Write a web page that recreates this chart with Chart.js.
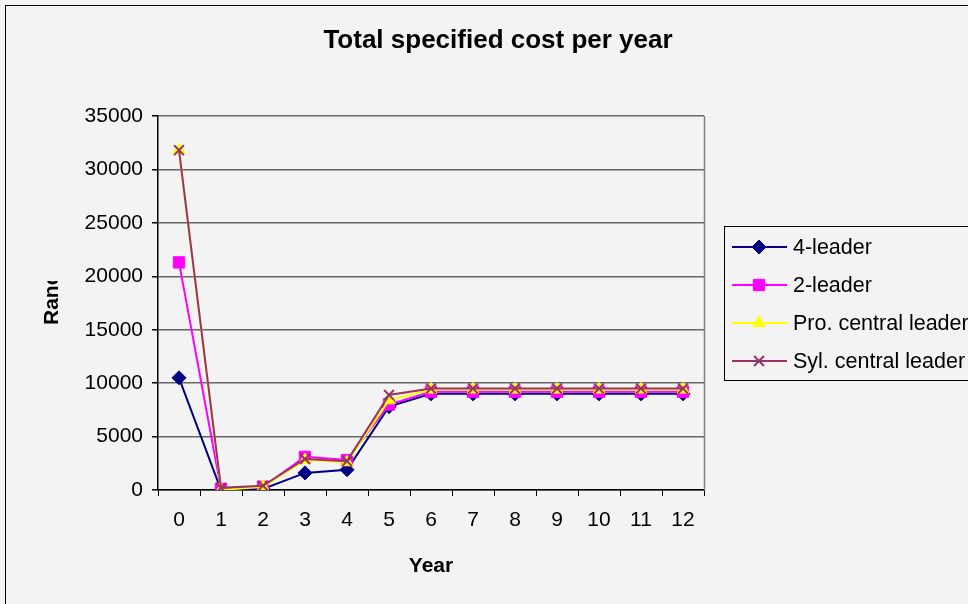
<!DOCTYPE html>
<html>
<head>
<meta charset="utf-8">
<script src="https://cdn.jsdelivr.net/npm/chart.js@4.4.1/dist/chart.umd.min.js"></script>
<style>
  body { margin: 0; background: #f3f3f3; }
  canvas { display: block; }
</style>
</head>
<body>
<canvas id="costChart" width="968" height="604"></canvas>
<script>
// Data
let years = ["0", "1", "2", "3", "4", "5", "6", "7", "8", "9", "10", "11", "12"];
let fourLeader = [10500, 0, 100, 1600, 1900, 7800, 9000, 9000, 9000, 9000, 9000, 9000, 9000];
let twoLeader = [21300, 100, 300, 3100, 2800, 8000, 9200, 9200, 9200, 9200, 9200, 9200, 9200];
let proCentral = [31800, 0, 300, 2800, 2600, 8400, 9400, 9400, 9400, 9400, 9400, 9400, 9400];
let sylCentral = [31800, 200, 400, 2900, 2700, 8900, 9500, 9500, 9500, 9500, 9500, 9500, 9500];
let yTicks = [0, 5000, 10000, 15000, 20000, 25000, 30000, 35000];

const FONT = "Arial, 'Liberation Sans', sans-serif";

// background, frame, titles, right border and legend drawn by hand
const decor = {
    id: "decor",
    beforeDraw(chart) {
        let ctx = chart.ctx;
        ctx.save();
        ctx.fillStyle = "#f3f3f3";
        ctx.fillRect(0, 0, chart.width, chart.height);
        ctx.strokeStyle = "#000";
        ctx.lineWidth = 1;
        ctx.strokeRect(5.5, 5.5, 1200, 1200);
        ctx.restore();
    },
    afterDraw(chart) {
        let ctx = chart.ctx;
        let area = chart.chartArea;
        ctx.save();

        // right edge of the plot area
        ctx.strokeStyle = "#808080";
        ctx.lineWidth = 1.5;
        ctx.beginPath();
        ctx.moveTo(area.right + 0.5, area.top);
        ctx.lineTo(area.right + 0.5, area.bottom);
        ctx.stroke();

        ctx.fillStyle = "#000";
        ctx.font = "bold 26px " + FONT;
        ctx.textAlign = "center";
        ctx.textBaseline = "alphabetic";
        ctx.fillText("Total specified cost per year", 498, 48);

        ctx.font = "bold 21px " + FONT;
        ctx.fillText("Year", 431, 572);

        // y title, clipped like the original ("Rand" shows as "Ranc")
        ctx.save();
        ctx.beginPath();
        ctx.rect(0, 281, 120, 100);
        ctx.clip();
        ctx.translate(58, 325);
        ctx.rotate(-Math.PI / 2);
        ctx.textAlign = "left";
        ctx.fillText("Rand", 0, 0);
        ctx.restore();

        // legend
        ctx.fillStyle = "#f3f3f3";
        ctx.fillRect(724, 226, 300, 154);
        ctx.strokeStyle = "#000";
        ctx.lineWidth = 1;
        ctx.strokeRect(724.5, 226.5, 300, 154);
        let rows = [247, 285, 323, 361];
        chart.data.datasets.forEach(function(ds, i) {
            let y = rows[i];
            ctx.strokeStyle = ds.borderColor;
            ctx.lineWidth = 2;
            ctx.beginPath();
            ctx.moveTo(732, y);
            ctx.lineTo(787, y);
            ctx.stroke();
            ctx.fillStyle = ds.pointBackgroundColor;
            ctx.strokeStyle = ds.pointBorderColor;
            ctx.lineWidth = ds.pointBorderWidth;
            Chart.helpers.drawPoint(ctx, {
                pointStyle: ds.pointStyle,
                radius: ds.pointRadius,
                rotation: 0,
                borderWidth: ds.pointBorderWidth
            }, 759, y);
            ctx.fillStyle = "#000";
            ctx.font = "21.5px " + FONT;
            ctx.textAlign = "left";
            ctx.textBaseline = "middle";
            ctx.fillText(ds.label, 793, y + 1);
        });
        ctx.restore();
    }
};

let ctx = document.getElementById("costChart").getContext("2d");

new Chart(ctx, {
    type: "line",
    data: {
        labels: years,
        datasets: [
            {
                label: "4-leader",
                data: fourLeader,
                borderColor: "#000080",
                pointBackgroundColor: "#000080",
                pointBorderColor: "#000080",
                pointStyle: "rectRot",
                pointRadius: 7,
                pointBorderWidth: 1,
                order: 4
            },
            {
                label: "2-leader",
                data: twoLeader,
                borderColor: "#ff00ff",
                pointBackgroundColor: "#ff00ff",
                pointBorderColor: "#ff00ff",
                pointStyle: "rect",
                pointRadius: 8,
                pointBorderWidth: 1,
                order: 3
            },
            {
                label: "Pro. central leader",
                data: proCentral,
                borderColor: "#ffff00",
                pointBackgroundColor: "#ffff00",
                pointBorderColor: "#ffff00",
                pointStyle: "triangle",
                pointRadius: 7,
                pointBorderWidth: 1,
                order: 2
            },
            {
                label: "Syl. central leader",
                data: sylCentral,
                borderColor: "#993366",
                pointBackgroundColor: "#993366",
                pointBorderColor: "#993366",
                pointStyle: "crossRot",
                pointRadius: 7,
                pointBorderWidth: 2,
                order: 1
            }
        ]
    },
    options: {
        responsive: false,
        animation: false,
        devicePixelRatio: 1,
        elements: {
            line: { borderWidth: 2, tension: 0 }
        },
        layout: {
            padding: { left: 30, right: 264, top: 116, bottom: 54 }
        },
        plugins: {
            legend: { display: false },
            tooltip: { enabled: false }
        },
        scales: {
            x: {
                offset: true,
                grid: {
                    offset: true,
                    drawOnChartArea: false,
                    tickLength: 6,
                    tickColor: "#000"
                },
                border: { color: "#000", width: 1.5 },
                ticks: {
                    color: "#000",
                    font: { family: FONT, size: 21 },
                    padding: 12,
                    maxRotation: 0,
                    autoSkip: false
                },
                afterFit(scale) { scale.height = 60; }
            },
            y: {
                min: 0,
                max: 35000,
                afterBuildTicks(scale) {
                    scale.ticks = yTicks.map(v => ({ value: v }));
                },
                grid: {
                    color: "#666",
                    lineWidth: 1.5,
                    tickLength: 6,
                    tickColor: "#000"
                },
                border: { color: "#000", width: 1.5 },
                ticks: {
                    color: "#000",
                    font: { family: FONT, size: 21 },
                    padding: 9,
                    callback: value => String(value)
                },
                afterFit(scale) { scale.width = 128; }
            }
        }
    },
    plugins: [decor]
});
</script>
</body>
</html>
